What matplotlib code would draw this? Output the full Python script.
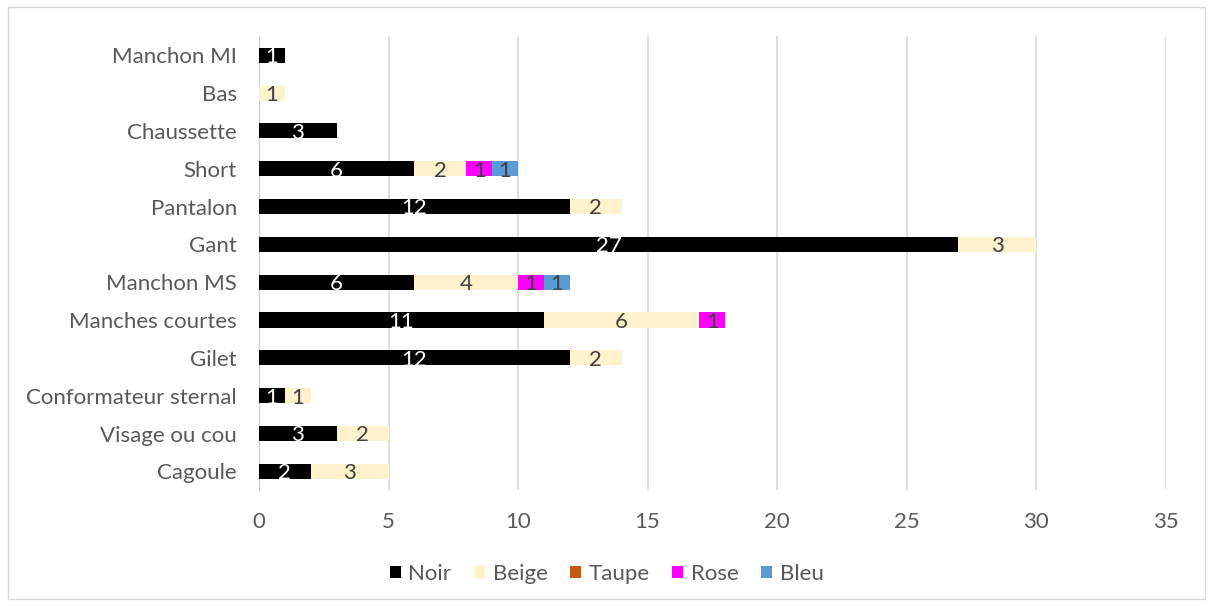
import matplotlib
matplotlib.use("Agg")
import matplotlib.pyplot as plt
import numpy as np

categories = ["Cagoule", "Visage ou cou", "Conformateur sternal", "Gilet",
              "Manches courtes", "Manchon MS", "Gant", "Pantalon", "Short",
              "Chaussette", "Bas", "Manchon MI"]
noir  = [2, 3, 1, 12, 11, 6, 27, 12, 6, 3, 0, 1]
beige = [3, 2, 1, 2, 6, 4, 3, 2, 2, 0, 1, 0]
taupe = [0, 0, 0, 0, 0, 0, 0, 0, 0, 0, 0, 0]
rose  = [0, 0, 0, 0, 1, 1, 0, 0, 1, 0, 0, 0]
bleu  = [0, 0, 0, 0, 0, 1, 0, 0, 1, 0, 0, 0]
series_names = ["Noir", "Beige", "Taupe", "Rose", "Bleu"]
colors = ["#000000", "#FFF2CC", "#C55A11", "#FF00FF", "#5B9BD5"]
label_colors = ["white", "#404040", "white", "#404040", "#404040"]
xticks = [0, 5, 10, 15, 20, 25, 30, 35]

plt.rcParams['font.family'] = ['Lato', 'DejaVu Sans']
FS = 16
fig = plt.figure(figsize=(12.13, 6.06), dpi=100)
fig.patches.append(plt.Rectangle((0.007, 0.012), 0.986, 0.976, transform=fig.transFigure,
                                 fill=False, edgecolor="#d9d9d9", linewidth=1.0))
ax = fig.add_axes([0.2135, 0.191, 0.7475, 0.749])

y = np.arange(len(categories))
left = np.zeros(len(categories))
data = [noir, beige, taupe, rose, bleu]
for name, vals, c, lc in zip(series_names, data, colors, label_colors):
    vals = np.array(vals, dtype=float)
    ax.barh(y, vals, left=left, height=0.4, color=c, label=name, zorder=3)
    for yi, (l, v) in enumerate(zip(left, vals)):
        if v > 0:
            ax.text(l + v / 2, yi - 0.05, f"{int(v)}", ha="center", va="center",
                    color=lc, fontsize=FS, zorder=4)
    left += vals

ax.set_yticks(y)
ax.set_yticklabels(categories, fontsize=FS, color="#595959")
ax.set_xticks(xticks)
ax.set_xticklabels([str(t) for t in xticks], fontsize=FS, color="#595959")
ax.set_xlim(0, 35)
ax.set_ylim(-0.5, len(categories) - 0.5)
ax.grid(axis="x", color="#d9d9d9", linewidth=1.2, zorder=0)
for s in ["top", "right", "bottom"]:
    ax.spines[s].set_visible(False)
ax.spines["left"].set_color("#d0d0d0")
ax.tick_params(axis="y", length=0, pad=16)
ax.tick_params(axis="x", length=0, pad=16)

leg = fig.legend(loc="center", bbox_to_anchor=(0.5, 0.053), ncol=5, frameon=False,
                 fontsize=FS, handlelength=0.5, handleheight=0.5, columnspacing=1.0,
                 handletextpad=0.35)
for t in leg.get_texts():
    t.set_color("#595959")

fig.savefig("out.png", dpi=100)
